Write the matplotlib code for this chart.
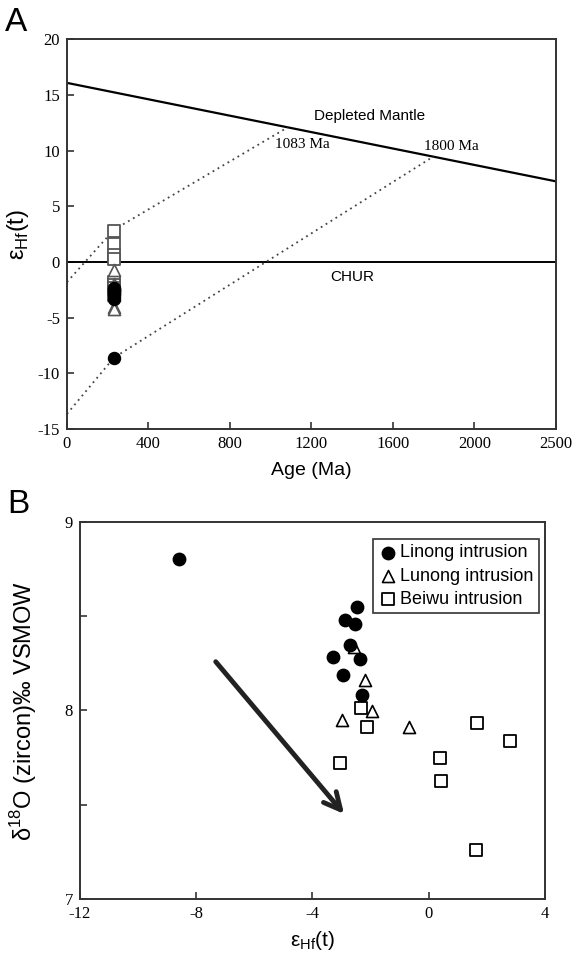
import numpy as np
import matplotlib
matplotlib.use("Agg")
import matplotlib.pyplot as plt

plt.rcParams['font.family'] = ['Liberation Sans', 'DejaVu Sans']
plt.rcParams['mathtext.fontset'] = 'custom'
plt.rcParams['mathtext.rm'] = 'Liberation Sans'

# ---- panel A data (age in Ma, eHf(t)) ----
dm_age = [0, 2400]
dm_ehf = [16.1, 7.25]
trend1_age = [0, 230, 1083]
trend1_ehf = [-1.8, 2.9, 12.1]
trend2_age = [0, 230, 1800]
trend2_ehf = [-13.65, -8.6, 9.5]

a_sq_age = [230] * 8
a_sq_ehf = [2.8, 1.65, 0.6, 0.3, -1.8, -2.1, -2.3, -3.0]
a_tri_age = [230] * 7
a_tri_ehf = [-0.7, -2.0, -2.2, -2.6, -3.0, -4.0, -4.2]
a_cir_age = [230] * 9
a_cir_ehf = [-2.3, -2.4, -2.5, -2.6, -2.7, -2.9, -3.0, -3.3, -8.6]

a_xticks = [0, 400, 800, 1200, 1600, 2000, 2400]
a_xticklabels = ['0', '400', '800', '1200', '1600', '2000', '2500']

# ---- panel B data (eHf(t), d18O) ----
linong_ehf = [-8.58, -2.47, -2.87, -2.52, -2.70, -3.29, -2.37, -2.95, -2.30]
linong_o = [8.805, 8.548, 8.48, 8.461, 8.349, 8.282, 8.273, 8.188, 8.083]
lunong_ehf = [-2.57, -2.18, -1.96, -2.99, -0.67]
lunong_o = [8.335, 8.163, 7.995, 7.949, 7.911]
beiwu_ehf = [-2.32, -2.11, -3.04, 0.40, 0.43, 1.65, 2.80, 1.64]
beiwu_o = [8.011, 7.913, 7.720, 7.750, 7.624, 7.933, 7.839, 7.259]

arrow_start = (-7.39, 8.27)
arrow_end = (-2.85, 7.44)

fig = plt.figure(figsize=(5.77, 9.56), dpi=100)
axA = fig.add_axes([0.1161, 0.5513, 0.8475, 0.4074])
axB = fig.add_axes([0.1386, 0.0596, 0.8059, 0.3944])

serif = 'Liberation Serif'
spine_c = '#333333'

for ax in (axA, axB):
    for s in ax.spines.values():
        s.set_linewidth(1.4)
        s.set_color(spine_c)
    ax.tick_params(direction='in', length=5, width=1.2, color=spine_c,
                   top=False, right=False, labelsize=12, pad=5)

# ---------- panel A ----------
axA.plot(dm_age, dm_ehf, color='black', lw=1.6)
axA.axhline(0, color='black', lw=1.4)
axA.plot(trend1_age, trend1_ehf, color='#444444', ls=(0, (1, 2.2)), lw=1.3)
axA.plot(trend2_age, trend2_ehf, color='#444444', ls=(0, (1, 2.2)), lw=1.3)

axA.scatter(a_sq_age, a_sq_ehf, marker='s', s=75, facecolors='white',
            edgecolors='#555555', linewidths=1.3, zorder=3)
axA.scatter(a_tri_age, a_tri_ehf, marker='^', s=75, facecolors='white',
            edgecolors='#555555', linewidths=1.2, zorder=4)
axA.scatter(a_cir_age, a_cir_ehf, marker='o', s=75, color='black', zorder=5)

axA.text(1487, 13.1, 'Depleted Mantle', fontsize=11, ha='center', va='center')
axA.text(1020, 10.6, '1083 Ma', fontsize=11, ha='left', va='center', family=serif)
axA.text(1753, 10.4, '1800 Ma', fontsize=11, ha='left', va='center', family=serif)
axA.text(1402, -1.3, 'CHUR', fontsize=11, ha='center', va='center')

axA.set_xlim(0, 2400)
axA.set_ylim(-15, 20)
axA.set_xticks(a_xticks)
axA.set_xticklabels(a_xticklabels, family=serif)
axA.set_yticks(np.arange(-15, 21, 5))
axA.set_yticklabels([str(v) for v in range(-15, 21, 5)], family=serif)
axA.set_xlabel('Age (Ma)', fontsize=14)
axA.set_ylabel(r'ε$_{\mathregular{Hf}}$(t)', fontsize=17)
axA.xaxis.set_label_coords(0.5, -0.085)
axA.yaxis.set_label_coords(-0.073, 0.5)

# ---------- panel B ----------
axB.scatter(lunong_ehf, lunong_o, marker='^', s=75, facecolors='white',
            edgecolors='black', linewidths=1.2, zorder=3, label='Lunong intrusion')
axB.scatter(linong_ehf, linong_o, marker='o', s=80, color='black', zorder=4,
            label='Linong intrusion')
axB.scatter(beiwu_ehf, beiwu_o, marker='s', s=75, facecolors='white',
            edgecolors='black', linewidths=1.3, zorder=3, label='Beiwu intrusion')

axB.annotate('', xy=arrow_end, xytext=arrow_start,
             arrowprops=dict(arrowstyle='->,head_length=1.2,head_width=0.6',
                             lw=3.5, color='#222222'))

axB.set_xlim(-12, 4)
axB.set_ylim(7, 9)
axB.set_xticks([-12, -8, -4, 0, 4])
axB.set_xticklabels(['-12', '-8', '-4', '0', '4'], family=serif)
axB.set_yticks([7, 7.5, 8, 8.5, 9])
axB.set_yticklabels(['7', '', '8', '', '9'], family=serif)
axB.set_xlabel(r'ε$_{\mathregular{Hf}}$(t)', fontsize=15)
axB.set_ylabel(r'δ$^{\mathregular{18}}$O (zircon)‰ VSMOW', fontsize=17)
axB.xaxis.set_label_coords(0.5, -0.08)
axB.yaxis.set_label_coords(-0.088, 0.5)

handles, labels = axB.get_legend_handles_labels()
order = [1, 0, 2]
leg = axB.legend([handles[i] for i in order], [labels[i] for i in order],
                 loc='upper right', bbox_to_anchor=(0.987, 0.955),
                 fontsize=13, frameon=True, fancybox=False,
                 edgecolor='black', handletextpad=0.2, borderpad=0.3,
                 labelspacing=0.35, handlelength=1.0, borderaxespad=0)
leg.get_frame().set_linewidth(1.2)

fig.text(0.009, 0.993, 'A', fontsize=24, va='top', ha='left')
fig.text(0.012, 0.488, 'B', fontsize=24, va='top', ha='left')

fig.savefig('out.png', dpi=100)
